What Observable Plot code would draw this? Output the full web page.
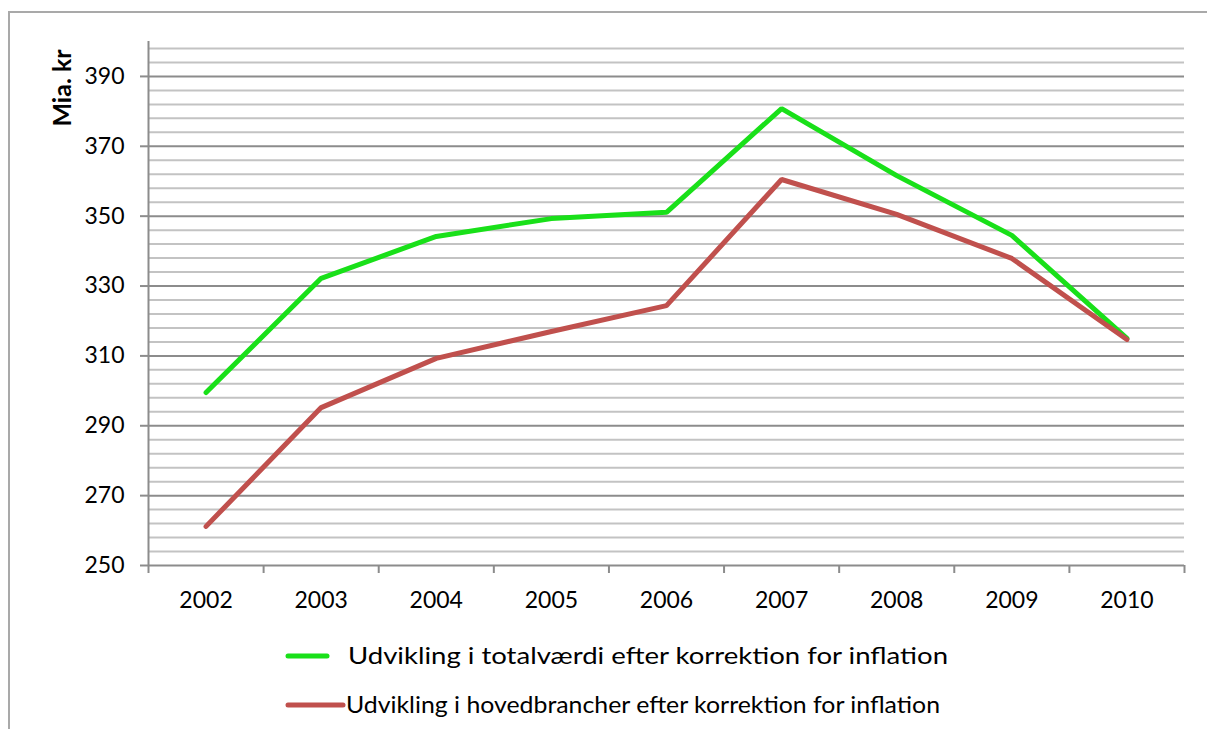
<!DOCTYPE html>
<html>
<head>
<meta charset="utf-8">
<script src="https://cdn.jsdelivr.net/npm/d3@7"></script>
<script src="https://cdn.jsdelivr.net/npm/@observablehq/plot@0.6"></script>
<style>
  html, body { margin: 0; padding: 0; background: #fff; overflow: hidden; width: 1207px; height: 729px; }
  #frame { position: absolute; left: 8px; top: 11px; width: 1400px; height: 900px; border: 2px solid #a9a9a9; box-sizing: border-box; }
  #chart { position: absolute; left: 0; top: 0; }
  #ytitle { position: absolute; left: 61px; top: 88px; transform: translate(-50%, -50%) rotate(-90deg); font-family: Lato, sans-serif; font-weight: bold; font-size: 25px; white-space: nowrap; color: #000; }
  #legend { position: absolute; left: 0; top: 620px; }
</style>
</head>
<body>
<div id="frame"></div>
<div id="chart"></div>
<div id="ytitle">Mia. kr</div>
<svg id="legend" width="1207" height="109"></svg>
<script>
const years = [2002, 2003, 2004, 2005, 2006, 2007, 2008, 2009, 2010];
const totalValues = [299.5, 332.2, 344.2, 349.3, 351.1, 380.8, 361.6, 344.5, 315.0];
const mainValues = [261.2, 295.2, 309.3, 317.0, 324.4, 360.5, 350.5, 337.9, 314.7];
const seriesNames = [
  "Udvikling i totalværdi efter korrektion for inflation",
  "Udvikling i hovedbrancher efter korrektion for inflation"
];
const seriesColors = ["#19e019", "#c0504d"];
const yMajorTicks = [250, 270, 290, 310, 330, 350, 370, 390];
const yMinorTicks = d3.range(254, 400, 4).filter(v => (v - 250) % 20 !== 0);
const xBoundaries = d3.range(2001.5, 2011, 1);

const data = [
  ...years.map((y, i) => ({year: y, value: totalValues[i], series: seriesNames[0]})),
  ...years.map((y, i) => ({year: y, value: mainValues[i], series: seriesNames[1]}))
];

const chart = Plot.plot({
  width: 1207,
  height: 615,
  marginLeft: 148,
  marginRight: 23,
  marginTop: 41,
  marginBottom: 50,
  style: {fontFamily: "Lato, sans-serif", fontSize: "23px", color: "#000", background: "transparent"},
  x: {domain: [2001.5, 2010.5]},
  y: {domain: [250, 400]},
  color: {domain: seriesNames, range: seriesColors},
  marks: [
    Plot.ruleY(yMinorTicks, {stroke: "#c3c3c3", strokeWidth: 2}),
    Plot.ruleY(yMajorTicks.slice(1), {stroke: "#8c8c8c", strokeWidth: 2}),
    Plot.axisY({ticks: yMajorTicks, tickSize: 8, tickPadding: 16, tickFormat: d => d, stroke: "#8c8c8c", strokeWidth: 2, label: null, fontSize: 23}),
    Plot.axisX({ticks: xBoundaries, tickSize: 8, tickFormat: () => "", stroke: "#8c8c8c", strokeWidth: 2, label: null}),
    Plot.axisX({ticks: years, tickSize: 0, tickPadding: 26, tickFormat: d => String(d), label: null, fontSize: 23}),
    Plot.ruleX([2001.5], {y1: 250, y2: 400, stroke: "#8c8c8c", strokeWidth: 2}),
    Plot.ruleY([250], {stroke: "#8c8c8c", strokeWidth: 2}),
    Plot.line(data, {x: "year", y: "value", stroke: "series", strokeWidth: 5, strokeLinejoin: "miter", strokeLinecap: "round"})
  ]
});
document.getElementById("chart").appendChild(chart);

// Legend
const leg = d3.select("#legend");
const legendRows = [
  {name: seriesNames[0], color: seriesColors[0], x1: 288, x2: 327, tx: 348, y: 36, len: 600},
  {name: seriesNames[1], color: seriesColors[1], x1: 288, x2: 343, tx: 346, y: 85, len: 594}
];
legendRows.forEach(r => {
  leg.append("line").attr("x1", r.x1).attr("x2", r.x2).attr("y1", r.y).attr("y2", r.y)
    .attr("stroke", r.color).attr("stroke-width", 5).attr("stroke-linecap", "round");
  leg.append("text").attr("x", r.tx).attr("y", r.y + 8).text(r.name)
    .attr("font-family", "Lato, sans-serif").attr("font-size", 24).attr("fill", "#000")
    .attr("textLength", r.len).attr("lengthAdjust", "spacingAndGlyphs");
});
</script>
</body>
</html>
